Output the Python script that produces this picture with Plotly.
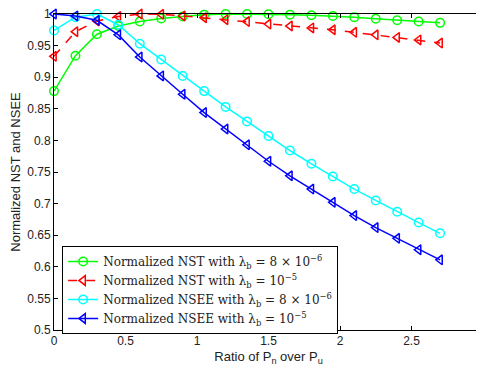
import plotly.graph_objects as go

x_vals = [0, 0.15, 0.3, 0.45, 0.6, 0.75, 0.9, 1.05, 1.2, 1.35, 1.5, 1.65, 1.8, 1.95, 2.1, 2.25, 2.4, 2.55, 2.7]

nst_8e6 = [0.878, 0.934, 0.968, 0.981, 0.988, 0.993, 0.996, 0.999, 1.0, 1.0,
           0.9995, 0.999, 0.998, 0.997, 0.995, 0.9925, 0.990, 0.988, 0.986]
nst_1e5 = [0.933, 0.972, 0.989, 0.996, 1.0, 0.9995, 0.997, 0.994, 0.991, 0.988,
           0.984, 0.981, 0.978, 0.975, 0.971, 0.967, 0.963, 0.959, 0.954]
nsee_8e6 = [0.974, 0.995, 1.0, 0.983, 0.953, 0.928, 0.902, 0.878, 0.853, 0.830,
            0.807, 0.784, 0.763, 0.743, 0.723, 0.705, 0.687, 0.670, 0.653]
nsee_1e5 = [1.0, 0.997, 0.990, 0.967, 0.932, 0.902, 0.873, 0.844, 0.818, 0.793,
            0.767, 0.744, 0.723, 0.702, 0.681, 0.662, 0.645, 0.627, 0.611]

names = [
    "Normalized NST with λ<sub>b</sub> = 8 × 10<sup>−6</sup>",
    "Normalized NST with λ<sub>b</sub> = 10<sup>−5</sup>",
    "Normalized NSEE with λ<sub>b</sub> = 8 × 10<sup>−6</sup>",
    "Normalized NSEE with λ<sub>b</sub> = 10<sup>−5</sup>",
]
series = [nst_8e6, nst_1e5, nsee_8e6, nsee_1e5]
colors = ["#00ff00", "#ff0000", "#00ffff", "#0000ff"]
symbols = ["circle-open", "triangle-left-open", "circle-open", "triangle-left-open"]
dashes = ["solid", "dash", "solid", "solid"]

x_ticks = [0, 0.5, 1, 1.5, 2, 2.5, 3]
x_ticktext = ["0", "0.5", "1", "1.5", "2", "2.5", "3"]
y_ticks = [0.5, 0.55, 0.6, 0.65, 0.7, 0.75, 0.8, 0.85, 0.9, 0.95, 1.0]
y_ticktext = ["0.5", "0.55", "0.6", "0.65", "0.7", "0.75", "0.8", "0.85", "0.9", "0.95", "1"]

fig = go.Figure()
for name, ys, c, s, d in zip(names, series, colors, symbols, dashes):
    fig.add_trace(go.Scatter(
        x=x_vals, y=ys, name=name, mode="lines+markers",
        line=dict(color=c, width=1.5, dash=d),
        marker=dict(symbol=s, size=8.5, color=c, line=dict(color=c, width=1.5)),
        cliponaxis=False,
    ))

axis_common = dict(
    showline=True, linecolor="black", linewidth=1, mirror="allticks",
    ticks="inside", ticklen=4, tickcolor="black", showgrid=False, zeroline=False,
    automargin=False, ticklabeloverflow="allow",
    tickfont=dict(family="Liberation Sans, Arial", size=12, color="#222"),
)

# page body has an 8px margin, so the figure is sized to fit the window
fig.update_layout(
    width=476, height=358,
    margin=dict(l=46, r=1, t=6, b=36, pad=0),
    paper_bgcolor="white", plot_bgcolor="white",
    xaxis=dict(range=[0, 3], tickvals=x_ticks, ticktext=x_ticktext,
               title=dict(text="Ratio of P<sub>n</sub> over P<sub>u</sub>", standoff=4,
                          font=dict(family="Liberation Sans, Arial", size=13, color="#222")),
               **axis_common),
    yaxis=dict(range=[0.5, 1], tickvals=y_ticks, ticktext=y_ticktext,
               title=dict(text="Normalized NST and NSEE", standoff=6,
                          font=dict(family="Liberation Sans, Arial", size=13, color="#222")),
               **axis_common),
    legend=dict(x=0.019, y=0.266, xanchor="left", yanchor="top",
                bgcolor="white", bordercolor="black", borderwidth=1,
                font=dict(family="DejaVu Serif", size=12, color="#222"),
                tracegroupgap=0, itemwidth=30),
    showlegend=True,
)

fig.write_html("out.html")
